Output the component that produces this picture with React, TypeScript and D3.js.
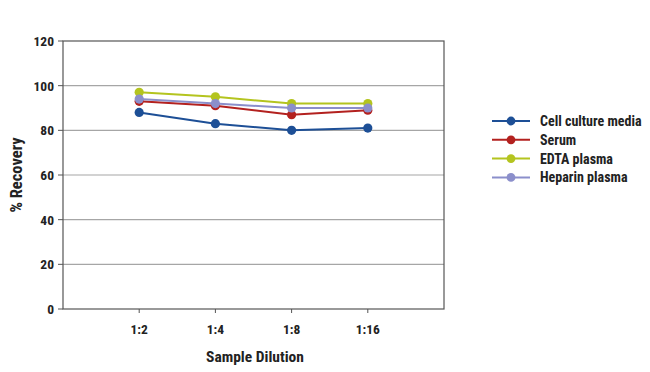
import React from 'react';
import * as d3 from 'd3';

const dilutions = ['1:2', '1:4', '1:8', '1:16'];
const cellCulture = [88, 83, 80, 81];
const serum = [93, 91, 87, 89];
const edtaPlasma = [97, 95, 92, 92];
const heparinPlasma = [94, 92, 90, 90];
const yTicks = [0, 20, 40, 60, 80, 100, 120];

const seriesList = [
  { name: 'Cell culture media', values: cellCulture, color: '#1d4f96' },
  { name: 'Serum', values: serum, color: '#b3211f' },
  { name: 'EDTA plasma', values: edtaPlasma, color: '#b4c41f' },
  { name: 'Heparin plasma', values: heparinPlasma, color: '#8b8fcb' },
];

const font = '"Liberation Sans Narrow", "Roboto Condensed", "DejaVu Sans Condensed", Arial, sans-serif';

const App: React.FC = () => {
  const width = 650;
  const height = 372;
  const left = 63;
  const right = 444;
  const top = 41;
  const bottom = 309;

  const x = d3.scalePoint<string>().domain(dilutions).range([left, right]).padding(1);
  const y = d3.scaleLinear().domain([0, 120]).range([bottom, top]);

  const line = d3.line<number>()
    .x((_, i) => x(dilutions[i]) as number)
    .y((d) => y(d));

  // legend layout
  const legX = 492;
  const legY = 121;
  const legStep = 18.8;

  return (
    <svg width={width} height={height} style={{ position: 'absolute', left: 0, top: 0 }} fontFamily={font}>
      <rect width={width} height={height} fill="#fff" />
      {yTicks.map((t) => (
        <g key={t}>
          {t > 0 && t < 120 && (
            <line x1={left} x2={right} y1={y(t)} y2={y(t)} stroke="#a6a6a6" strokeWidth={1.2} />
          )}
          <line x1={left - 5} x2={left} y1={y(t)} y2={y(t)} stroke="#555" strokeWidth={1} />
          <text x={left - 9} y={y(t)} dy="0.36em" textAnchor="end" fontSize={13.5} fontWeight="bold" fill="#222">
            {t}
          </text>
        </g>
      ))}
      <rect x={left} y={top} width={right - left} height={bottom - top} fill="none" stroke="#555" strokeWidth={1.2} />
      {dilutions.map((d) => (
        <g key={d}>
          <line x1={x(d)} x2={x(d)} y1={bottom} y2={bottom + 4} stroke="#555" />
          <text x={x(d)} y={bottom + 25} textAnchor="middle" fontSize={13.5} fontWeight="bold" fill="#222">
            {d}
          </text>
        </g>
      ))}
      <text x={255} y={362} textAnchor="middle" fontSize={15.5} fontWeight="bold" fill="#222">
        Sample Dilution
      </text>
      <text
        transform={`translate(22,${(top + bottom) / 2}) rotate(-90)`}
        textAnchor="middle"
        fontSize={16.5}
        fontWeight="bold"
        fill="#222"
      >
        % Recovery
      </text>
      {seriesList.map((s) => (
        <g key={s.name}>
          <path d={line(s.values) || ''} fill="none" stroke={s.color} strokeWidth={2} />
          {s.values.map((v, i) => (
            <circle key={i} cx={x(dilutions[i])} cy={y(v)} r={4.6} fill={s.color} />
          ))}
        </g>
      ))}
      {seriesList.map((s, i) => (
        <g key={s.name} transform={`translate(${legX},${legY + i * legStep})`}>
          <line x1={0} x2={38} y1={0} y2={0} stroke={s.color} strokeWidth={2} />
          <circle cx={19} cy={0} r={4.4} fill={s.color} />
          <text x={48} y={0} dy="0.35em" fontSize={14} fontWeight="bold" fill="#222">
            {s.name}
          </text>
        </g>
      ))}
    </svg>
  );
};

export default App;
